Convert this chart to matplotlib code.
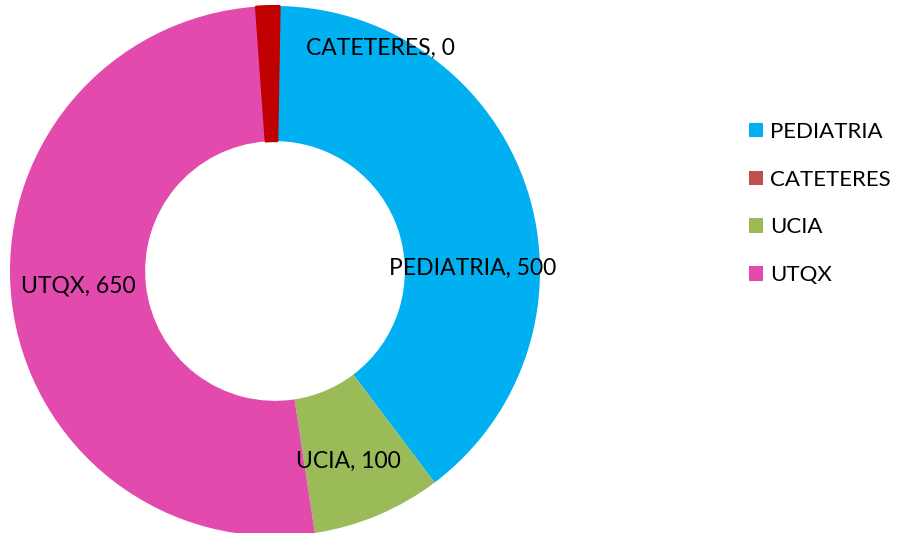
import matplotlib.pyplot as plt
from matplotlib.patches import Patch

# data
categories = ['PEDIATRIA', 'CATETERES', 'UCIA', 'UTQX']
shown_values = [500, 0, 100, 650]
drawn_values = [500, 18, 100, 650]   # catheter slice is drawn as a sliver in the original
colors = ['#00B0F0', '#C00000', '#9BBB59', '#E24AAD']
legend_colors = ['#00B0F0', '#C0504D', '#9BBB59', '#E24AAD']

# clockwise drawing order as in the picture
draw_order = [0, 2, 3, 1]
label_pos = {'PEDIATRIA': (0.747, 0.011), 'CATETERES': (0.396, 0.842),
             'UCIA': (0.275, -0.717), 'UTQX': (-0.743, -0.057)}

plt.rcParams['font.family'] = ['Lato', 'DejaVu Sans']

fig = plt.figure(figsize=(8.97, 5.33), dpi=100)
W, H = 897, 533
cx, cy, r = 275, 271, 265
ax = fig.add_axes([(cx - r) / W, (H - cy - r) / H, 2 * r / W, 2 * r / H])

sizes = [drawn_values[i] for i in draw_order]
cols = [colors[i] for i in draw_order]
wedges, _ = ax.pie(sizes, colors=cols, startangle=89, counterclock=False,
                   radius=1, wedgeprops=dict(width=0.51, linewidth=0))
# the sliver has a rounded outline in the original
cat_w = wedges[draw_order.index(1)]
cat_w.set_edgecolor('#C00000')
cat_w.set_linewidth(1.5)
cat_w.set_joinstyle('round')

for name, val in zip(categories, shown_values):
    x, y = label_pos[name]
    ax.text(x, y, f'{name}, {val}', ha='center', va='center', fontsize=16.5, color='black')

ax.set_xlim(-1, 1)
ax.set_ylim(-1, 1)
ax.set_aspect('equal')
ax.axis('off')

handles = [Patch(facecolor=c, edgecolor='none') for c in legend_colors]
fig.legend(handles, categories, loc='upper left', bbox_to_anchor=(740 / W, 1 - 113 / H),
           frameon=False, fontsize=16, handlelength=0.64, handleheight=0.64,
           handletextpad=0.32, labelspacing=1.25, borderaxespad=0)

fig.savefig('out.png', dpi=100)
